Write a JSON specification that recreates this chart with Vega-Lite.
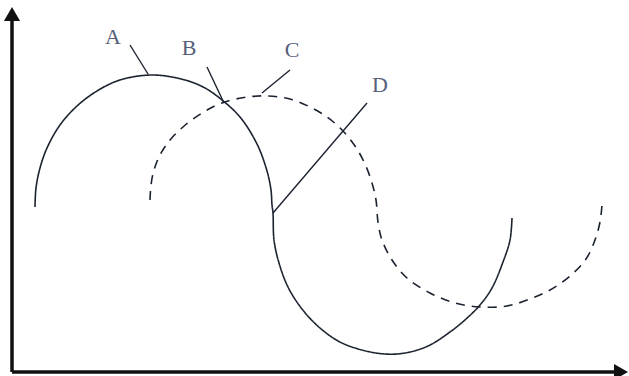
{
  "$schema": "https://vega.github.io/schema/vega-lite/v6.json",
  "width": 629,
  "height": 376,
  "autosize": {"type": "none"},
  "padding": 0,
  "background": "white",
  "config": {"view": {"stroke": null}},
  "datasets": {
    "curves": [
      {"series": "solid", "i": 1, "x": 35, "y": 169},
      {"series": "solid", "i": 2, "x": 36, "y": 188},
      {"series": "solid", "i": 3, "x": 40, "y": 208},
      {"series": "solid", "i": 4, "x": 47, "y": 228},
      {"series": "solid", "i": 5, "x": 60, "y": 251},
      {"series": "solid", "i": 6, "x": 77, "y": 270},
      {"series": "solid", "i": 7, "x": 97, "y": 285},
      {"series": "solid", "i": 8, "x": 120, "y": 296},
      {"series": "solid", "i": 9, "x": 153, "y": 301},
      {"series": "solid", "i": 10, "x": 185, "y": 296},
      {"series": "solid", "i": 11, "x": 205, "y": 288},
      {"series": "solid", "i": 12, "x": 222, "y": 276},
      {"series": "solid", "i": 13, "x": 240, "y": 259},
      {"series": "solid", "i": 14, "x": 257, "y": 232},
      {"series": "solid", "i": 15, "x": 267, "y": 205},
      {"series": "solid", "i": 16, "x": 271, "y": 186},
      {"series": "solid", "i": 17, "x": 272, "y": 171},
      {"series": "solid", "i": 18, "x": 273, "y": 163},
      {"series": "solid", "i": 19, "x": 274, "y": 136},
      {"series": "solid", "i": 20, "x": 279, "y": 113},
      {"series": "solid", "i": 21, "x": 288, "y": 89},
      {"series": "solid", "i": 22, "x": 302, "y": 67},
      {"series": "solid", "i": 23, "x": 320, "y": 48},
      {"series": "solid", "i": 24, "x": 340, "y": 34},
      {"series": "solid", "i": 25, "x": 362, "y": 26},
      {"series": "solid", "i": 26, "x": 385, "y": 22},
      {"series": "solid", "i": 27, "x": 405, "y": 23},
      {"series": "solid", "i": 28, "x": 428, "y": 30},
      {"series": "solid", "i": 29, "x": 450, "y": 44},
      {"series": "solid", "i": 30, "x": 466, "y": 57},
      {"series": "solid", "i": 31, "x": 480, "y": 71},
      {"series": "solid", "i": 32, "x": 492, "y": 88},
      {"series": "solid", "i": 33, "x": 503, "y": 114},
      {"series": "solid", "i": 34, "x": 510, "y": 136},
      {"series": "solid", "i": 35, "x": 512, "y": 158},
      {"series": "dashed", "i": 1, "x": 150, "y": 176},
      {"series": "dashed", "i": 2, "x": 151, "y": 191},
      {"series": "dashed", "i": 3, "x": 154, "y": 206},
      {"series": "dashed", "i": 4, "x": 160, "y": 221},
      {"series": "dashed", "i": 5, "x": 170, "y": 236},
      {"series": "dashed", "i": 6, "x": 183, "y": 249},
      {"series": "dashed", "i": 7, "x": 202, "y": 263},
      {"series": "dashed", "i": 8, "x": 222, "y": 273},
      {"series": "dashed", "i": 9, "x": 247, "y": 279},
      {"series": "dashed", "i": 10, "x": 268, "y": 280},
      {"series": "dashed", "i": 11, "x": 290, "y": 277},
      {"series": "dashed", "i": 12, "x": 310, "y": 269},
      {"series": "dashed", "i": 13, "x": 327, "y": 259},
      {"series": "dashed", "i": 14, "x": 342, "y": 246},
      {"series": "dashed", "i": 15, "x": 355, "y": 230},
      {"series": "dashed", "i": 16, "x": 365, "y": 212},
      {"series": "dashed", "i": 17, "x": 372, "y": 193},
      {"series": "dashed", "i": 18, "x": 376, "y": 176},
      {"series": "dashed", "i": 19, "x": 378, "y": 154},
      {"series": "dashed", "i": 20, "x": 382, "y": 136},
      {"series": "dashed", "i": 21, "x": 392, "y": 116},
      {"series": "dashed", "i": 22, "x": 407, "y": 98},
      {"series": "dashed", "i": 23, "x": 430, "y": 83},
      {"series": "dashed", "i": 24, "x": 455, "y": 73},
      {"series": "dashed", "i": 25, "x": 480, "y": 69},
      {"series": "dashed", "i": 26, "x": 507, "y": 70},
      {"series": "dashed", "i": 27, "x": 530, "y": 77},
      {"series": "dashed", "i": 28, "x": 550, "y": 86},
      {"series": "dashed", "i": 29, "x": 570, "y": 100},
      {"series": "dashed", "i": 30, "x": 586, "y": 117},
      {"series": "dashed", "i": 31, "x": 595, "y": 136},
      {"series": "dashed", "i": 32, "x": 600, "y": 154},
      {"series": "dashed", "i": 33, "x": 602, "y": 171}
    ],
    "labels": [
      {"label": "A", "tx": 113, "ty": 339, "x1": 130, "y1": 331, "x2": 148, "y2": 302},
      {"label": "B", "tx": 189, "ty": 328, "x1": 207, "y1": 309, "x2": 224, "y2": 273},
      {"label": "C", "tx": 292, "ty": 326, "x1": 290, "y1": 306, "x2": 262, "y2": 283},
      {"label": "D", "tx": 380, "ty": 291, "x1": 367, "y1": 273, "x2": 273, "y2": 163}
    ],
    "axes": [
      {"axis": "y", "x1": 12, "y1": 4, "x2": 12, "y2": 355, "ax": 12, "ay": 362, "shape": "triangle-up"},
      {"axis": "x", "x1": 12, "y1": 4, "x2": 616, "y2": 4, "ax": 621, "ay": 4, "shape": "triangle-right"}
    ]
  },
  "layer": [
    {
      "data": {"name": "curves"},
      "mark": {"type": "line", "color": "#1c2330", "strokeWidth": 1.6, "interpolate": "catmull-rom"},
      "encoding": {
        "x": {"field": "x", "type": "quantitative", "scale": {"domain": [0, 629], "nice": false, "zero": false}, "axis": null},
        "y": {"field": "y", "type": "quantitative", "scale": {"domain": [0, 376], "nice": false, "zero": false}, "axis": null},
        "order": {"field": "i", "type": "quantitative"},
        "detail": {"field": "series"},
        "strokeDash": {
          "field": "series",
          "type": "nominal",
          "scale": {"domain": ["solid", "dashed"], "range": [[1, 0], [9, 7]]},
          "legend": null
        }
      }
    },
    {
      "data": {"name": "labels"},
      "mark": {"type": "rule", "color": "#1c2330", "strokeWidth": 1.4},
      "encoding": {
        "x": {"field": "x1", "type": "quantitative", "scale": {"domain": [0, 629], "nice": false, "zero": false}, "axis": null},
        "y": {"field": "y1", "type": "quantitative", "scale": {"domain": [0, 376], "nice": false, "zero": false}, "axis": null},
        "x2": {"field": "x2"},
        "y2": {"field": "y2"}
      }
    },
    {
      "data": {"name": "labels"},
      "mark": {"type": "text", "font": "Liberation Serif", "fontSize": 22, "color": "#55607a", "baseline": "middle", "align": "center"},
      "encoding": {
        "x": {"field": "tx", "type": "quantitative", "scale": {"domain": [0, 629], "nice": false, "zero": false}, "axis": null},
        "y": {"field": "ty", "type": "quantitative", "scale": {"domain": [0, 376], "nice": false, "zero": false}, "axis": null},
        "text": {"field": "label"}
      }
    },
    {
      "data": {"name": "axes"},
      "mark": {"type": "rule", "color": "#111111", "strokeWidth": 3.5},
      "encoding": {
        "x": {"field": "x1", "type": "quantitative", "scale": {"domain": [0, 629], "nice": false, "zero": false}, "axis": null},
        "y": {"field": "y1", "type": "quantitative", "scale": {"domain": [0, 376], "nice": false, "zero": false}, "axis": null},
        "x2": {"field": "x2"},
        "y2": {"field": "y2"}
      }
    },
    {
      "data": {"name": "axes"},
      "mark": {"type": "point", "filled": true, "color": "#111111", "opacity": 1, "size": 260},
      "encoding": {
        "x": {"field": "ax", "type": "quantitative", "scale": {"domain": [0, 629], "nice": false, "zero": false}, "axis": null},
        "y": {"field": "ay", "type": "quantitative", "scale": {"domain": [0, 376], "nice": false, "zero": false}, "axis": null},
        "shape": {"field": "shape", "type": "nominal", "scale": null}
      }
    }
  ]
}
